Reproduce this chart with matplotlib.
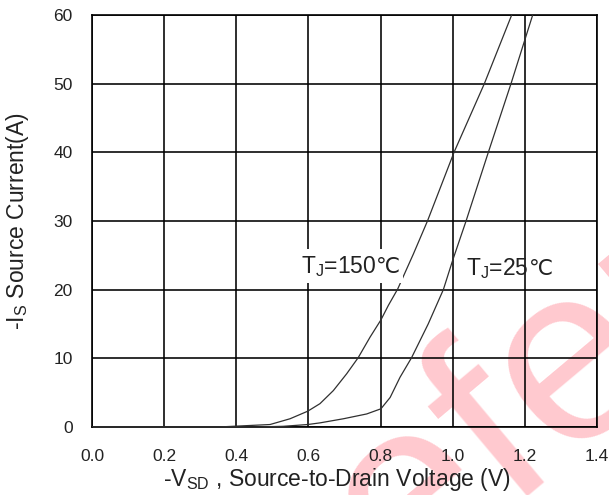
import matplotlib
matplotlib.use("Agg")
import matplotlib.pyplot as plt
from matplotlib.patches import Rectangle
from matplotlib.transforms import IdentityTransform

# ---- data ----
x_ticks = [0.0, 0.2, 0.4, 0.6, 0.8, 1.0, 1.2, 1.4]
x_tick_labels = ["0.0", "0.2", "0.4", "0.6", "0.8", "1.0", "1.2", "1.4"]
y_ticks = [0, 10, 20, 30, 40, 50, 60]
y_tick_labels = ["0", "10", "20", "30", "40", "50", "60"]

# T_J = 150 C curve
v_150 = [0.0, 0.35, 0.4935, 0.549, 0.598, 0.632, 0.669, 0.706, 0.738, 0.771, 0.801,
         0.8215, 0.8475, 0.891, 0.930, 1.0036, 1.0877, 1.1635]
i_150 = [0.0, 0.0, 0.36, 1.2, 2.3, 3.4, 5.3, 7.75, 10.1, 13.1, 15.6,
         17.7, 20.1, 25.2, 30.0, 40.0, 50.0, 60.0]

# T_J = 25 C curve
v_25 = [0.0, 0.45, 0.53, 0.598, 0.632, 0.697, 0.7615, 0.801, 0.8265, 0.854, 0.886,
        0.932, 0.974, 1.0, 1.037, 1.0987, 1.1616, 1.2217]
i_25 = [0.0, 0.0, 0.1, 0.36, 0.6, 1.2, 1.9, 2.65, 4.3, 7.25, 10.1,
        15.0, 20.0, 24.3, 30.0, 40.0, 50.0, 60.0]

label_150 = r"T$_{\mathrm{J}}$=150"
label_25 = r"T$_{\mathrm{J}}$=25"
label_unit = "℃"
label_150_pos = (0.5786, 22.44)
label_25_pos = (1.037, 22.1)
x_label = r"-V$_{\mathrm{SD}}$ , Source-to-Drain Voltage (V)"
y_label = r"-I$_{\mathrm{S}}$ Source Current(A)"
watermark = "Reference"

# ---- style ----
plt.rcParams["font.family"] = ["Liberation Sans", "DejaVu Sans"]
plt.rcParams["mathtext.fontset"] = "custom"
plt.rcParams["mathtext.rm"] = "Liberation Sans"
plt.rcParams["mathtext.it"] = "Liberation Sans"
plt.rcParams["mathtext.bf"] = "Liberation Sans"

W, H = 609, 495
fig = plt.figure(figsize=(W / 100, H / 100), dpi=100)
fig.patch.set_facecolor("white")

# watermark behind everything
fig.text(262 / W, 1 - 702 / H, watermark, fontsize=180,
         color=(1.0, 0.79, 0.81), rotation=40, rotation_mode="anchor",
         ha="left", va="baseline", zorder=-5)

ax = fig.add_axes([92 / W, 1 - 427 / H, (597 - 92) / W, (427 - 15) / H])
ax.set_facecolor("none")

ax.plot(v_150, i_150, color="#303030", lw=0.9, zorder=3)
ax.plot(v_25, i_25, color="#303030", lw=0.9, zorder=3)

ax.set_xlim(0, 1.4)
ax.set_ylim(0, 60)
ax.set_xticks(x_ticks)
ax.set_xticklabels(x_tick_labels)
ax.set_yticks(y_ticks)
ax.set_yticklabels(y_tick_labels)
ax.grid(True, color="black", lw=1.15, zorder=1)
ax.set_axisbelow(True)
for s in ax.spines.values():
    s.set_color("black")
    s.set_linewidth(1.2)
ax.tick_params(axis="both", length=0, labelsize=12.5, labelcolor="#222222")
ax.tick_params(axis="x", pad=16)
ax.tick_params(axis="y", pad=14)

ax.set_xlabel(x_label, fontsize=16.5, color="#222222")
ax.xaxis.label.set_va("baseline")
ax.xaxis.set_label_coords((336.5 - 92) / 505, -(486 - 427) / 412)
ax.set_ylabel(y_label, fontsize=16.5, color="#222222")
ax.yaxis.label.set_va("center")
ax.yaxis.set_label_coords(-(92 - 18) / 505, 0.5)

narrow = ["Liberation Sans Narrow", "Liberation Sans", "DejaVu Sans"]
t150 = ax.text(*label_150_pos, label_150, fontsize=16.5, family=narrow, color="#222222",
               ha="left", va="baseline", zorder=5)
t25 = ax.text(*label_25_pos, label_25, fontsize=16.5, family=narrow, color="#222222",
              ha="left", va="baseline", zorder=5)

fig.canvas.draw()
units = []
for t, pos in ((t150, label_150_pos), (t25, label_25_pos)):
    ext = t.get_window_extent()
    x0 = ax.transData.transform(pos)[0]
    u = ax.annotate(label_unit, xy=pos, xycoords="data",
                    xytext=(ext.x1 - x0, 0), textcoords="offset pixels",
                    fontsize=15.5, family=["DejaVu Sans"], color="#222222",
                    ha="left", va="baseline", zorder=5)
    units.append(u)

fig.canvas.draw()
# white patch behind the 150 C label (it hides the grid lines there)
e1 = t150.get_window_extent()
e2 = units[0].get_window_extent()
x_lo, x_hi = min(e1.x0, e2.x0) - 4, max(e1.x1, e2.x1) + 3
y_lo, y_hi = min(e1.y0, e2.y0) - 4, max(e1.y1, e2.y1) + 5
ax.add_patch(Rectangle((x_lo, y_lo), x_hi - x_lo, y_hi - y_lo, facecolor="white",
                       edgecolor="none", transform=IdentityTransform(), zorder=4))

fig.savefig("out.png", dpi=100)
